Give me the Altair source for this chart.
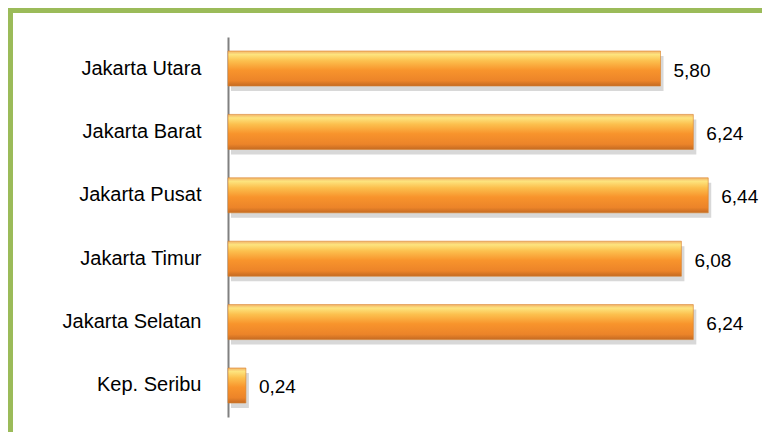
import altair as alt
import pandas as pd

regions = ["Jakarta Utara", "Jakarta Barat", "Jakarta Pusat", "Jakarta Timur", "Jakarta Selatan", "Kep. Seribu"]
values = [5.80, 6.24, 6.44, 6.08, 6.24, 0.24]
labels = ["5,80", "6,24", "6,44", "6,08", "6,24", "0,24"]

df = pd.DataFrame({"region": regions, "value": values, "label": labels})

y_enc = alt.Y("region:N", sort=regions,
              scale=alt.Scale(paddingInner=0.448, paddingOuter=0.221),
              axis=alt.Axis(title=None, ticks=False, domainColor="#808080", domainWidth=2,
                            labelFont="Liberation Sans", labelFontSize=20, labelColor="#000000",
                            labelPadding=27, grid=False))
x_enc = alt.X("value:Q", scale=alt.Scale(domain=[0, 7]), axis=None)

base = alt.Chart(df)

shadow = base.mark_bar(color="#b8b8b8", opacity=0.55, xOffset=3, yOffset=5).encode(y=y_enc, x=x_enc)

grad = alt.Gradient(
    gradient="linear", x1=0, y1=0, x2=0, y2=1,
    stops=[
        alt.GradientStop(offset=0.0, color="#f3b46a"),
        alt.GradientStop(offset=0.1, color="#fde47e"),
        alt.GradientStop(offset=0.28, color="#fcc04e"),
        alt.GradientStop(offset=0.55, color="#f8942c"),
        alt.GradientStop(offset=0.85, color="#ec8429"),
        alt.GradientStop(offset=1.0, color="#c46a22"),
    ],
)
bars = base.mark_bar(color=grad, stroke="#d9822b", strokeWidth=0.6).encode(y=y_enc, x=x_enc)

text = base.mark_text(align="left", baseline="middle", dx=13, dy=2, font="Liberation Sans",
                      fontSize=19, color="#000000").encode(y=y_enc, x=x_enc, text="label:N")

frame_df = pd.DataFrame({"k": [0]})
top_line = alt.Chart(frame_df).mark_rule(color="#9bbb59", strokeWidth=6).encode(
    x=alt.value(-218), x2=alt.value(534), y=alt.value(-27)
)
left_line = alt.Chart(frame_df).mark_rule(color="#9bbb59", strokeWidth=6).encode(
    x=alt.value(-218), y=alt.value(-29.5), y2=alt.value(395)
)

chart = alt.layer(top_line, left_line, shadow, bars, text).properties(
    width=522, height=380,
    background="#ffffff",
    autosize=alt.AutoSizeParams(type="none"),
    padding={"left": 220, "top": 29, "right": 12, "bottom": 15},
).configure_view(strokeWidth=0, stroke="transparent")

chart.save("out.html", embed_options={"renderer": "svg", "actions": False})
